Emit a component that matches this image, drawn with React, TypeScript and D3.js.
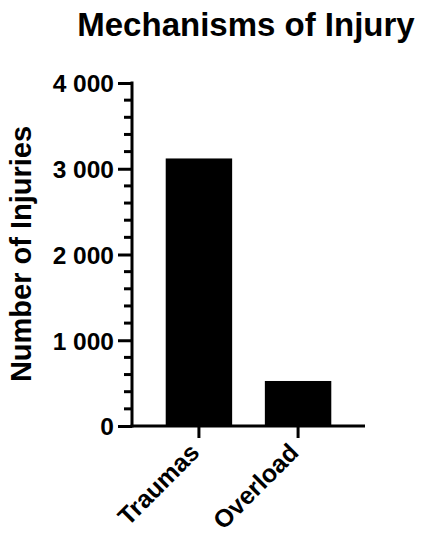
import React, { useEffect, useRef } from "react";
import * as d3 from "d3";

const categories = ["Traumas", "Overload"];
const injuries = [3120, 525];
const yTicks = [0, 1000, 2000, 3000, 4000];

const width = 423;
const height = 550;
const font = "'Liberation Sans', Arial, sans-serif";

const App = () => {
  const svgRef = useRef<SVGSVGElement>(null);

  useEffect(() => {
    const svg = d3.select(svgRef.current);
    svg.selectAll("*").remove();

    const left = 132;
    const right = 365;
    const top = 83;
    const bottom = 426;

    const x = d3.scaleBand().domain(categories).range([left, right]).paddingInner(0.33).paddingOuter(0.34);
    const y = d3.scaleLinear().domain([0, 4000]).range([bottom, top]);

    // Bars
    svg
      .append("g")
      .selectAll("rect")
      .data(categories)
      .join("rect")
      .attr("x", (d) => x(d)!)
      .attr("y", (d, i) => y(injuries[i]))
      .attr("width", x.bandwidth())
      .attr("height", (d, i) => y(0) - y(injuries[i]))
      .attr("fill", "#000");

    // Y axis with minor ticks
    const minor = d3.range(0, 4001, 200).filter((v) => v % 1000 !== 0);
    const yAxis = svg.append("g").attr("transform", `translate(${left},0)`);
    yAxis
      .call(d3.axisLeft(y).tickValues(yTicks).tickSize(14).tickSizeOuter(0).tickFormat((d) => d3.format(",")(d as number).replace(",", " ")))
      .call((g) => g.selectAll("path, line").attr("stroke", "#000").attr("stroke-width", 3))
      .call((g) => g.select(".domain").attr("d", `M0,${bottom + 1.5}V${top - 1.5}`))
      .call((g) =>
        g
          .selectAll("text")
          .attr("x", -18)
          .attr("dy", "0.36em")
          .attr("font-family", font)
          .attr("font-weight", "bold")
          .attr("font-size", 24.5)
          .attr("fill", "#000")
      );
    yAxis
      .selectAll("line.minor")
      .data(minor)
      .join("line")
      .attr("class", "minor")
      .attr("x1", -8)
      .attr("x2", 0)
      .attr("y1", (d) => y(d))
      .attr("y2", (d) => y(d))
      .attr("stroke", "#000")
      .attr("stroke-width", 3);

    // X axis
    const xAxis = svg.append("g").attr("transform", `translate(0,${bottom})`);
    xAxis
      .call(d3.axisBottom(x).tickSize(12).tickSizeOuter(0))
      .call((g) => g.selectAll("path, line").attr("stroke", "#000").attr("stroke-width", 3))
      .call((g) => g.select(".domain").attr("d", `M${left - 1.5},0H${right}`))
      .call((g) =>
        g
          .selectAll("text")
          .attr("font-family", font)
          .attr("font-weight", "bold")
          .attr("font-size", 25)
          .attr("fill", "#000")
          .attr("text-anchor", "end")
          .attr("dy", 0)
          .attr("transform", "translate(2,28) rotate(-45)")
          .attr("y", 0)
          .attr("x", 0)
      );

    // Title
    svg
      .append("text")
      .attr("x", 246)
      .attr("y", 36)
      .attr("text-anchor", "middle")
      .attr("font-family", font)
      .attr("font-weight", "bold")
      .attr("font-size", 33)
      .attr("fill", "#000")
      .text("Mechanisms of Injury");

    // Y label
    svg
      .append("text")
      .attr("transform", `translate(31,254) rotate(-90)`)
      .attr("text-anchor", "middle")
      .attr("font-family", font)
      .attr("font-weight", "bold")
      .attr("font-size", 29)
      .attr("fill", "#000")
      .text("Number of Injuries");
  }, []);

  return (
    <svg
      ref={svgRef}
      width={width}
      height={height}
      style={{ position: "absolute", left: 0, top: 0, background: "#fff" }}
    />
  );
};

export default App;
